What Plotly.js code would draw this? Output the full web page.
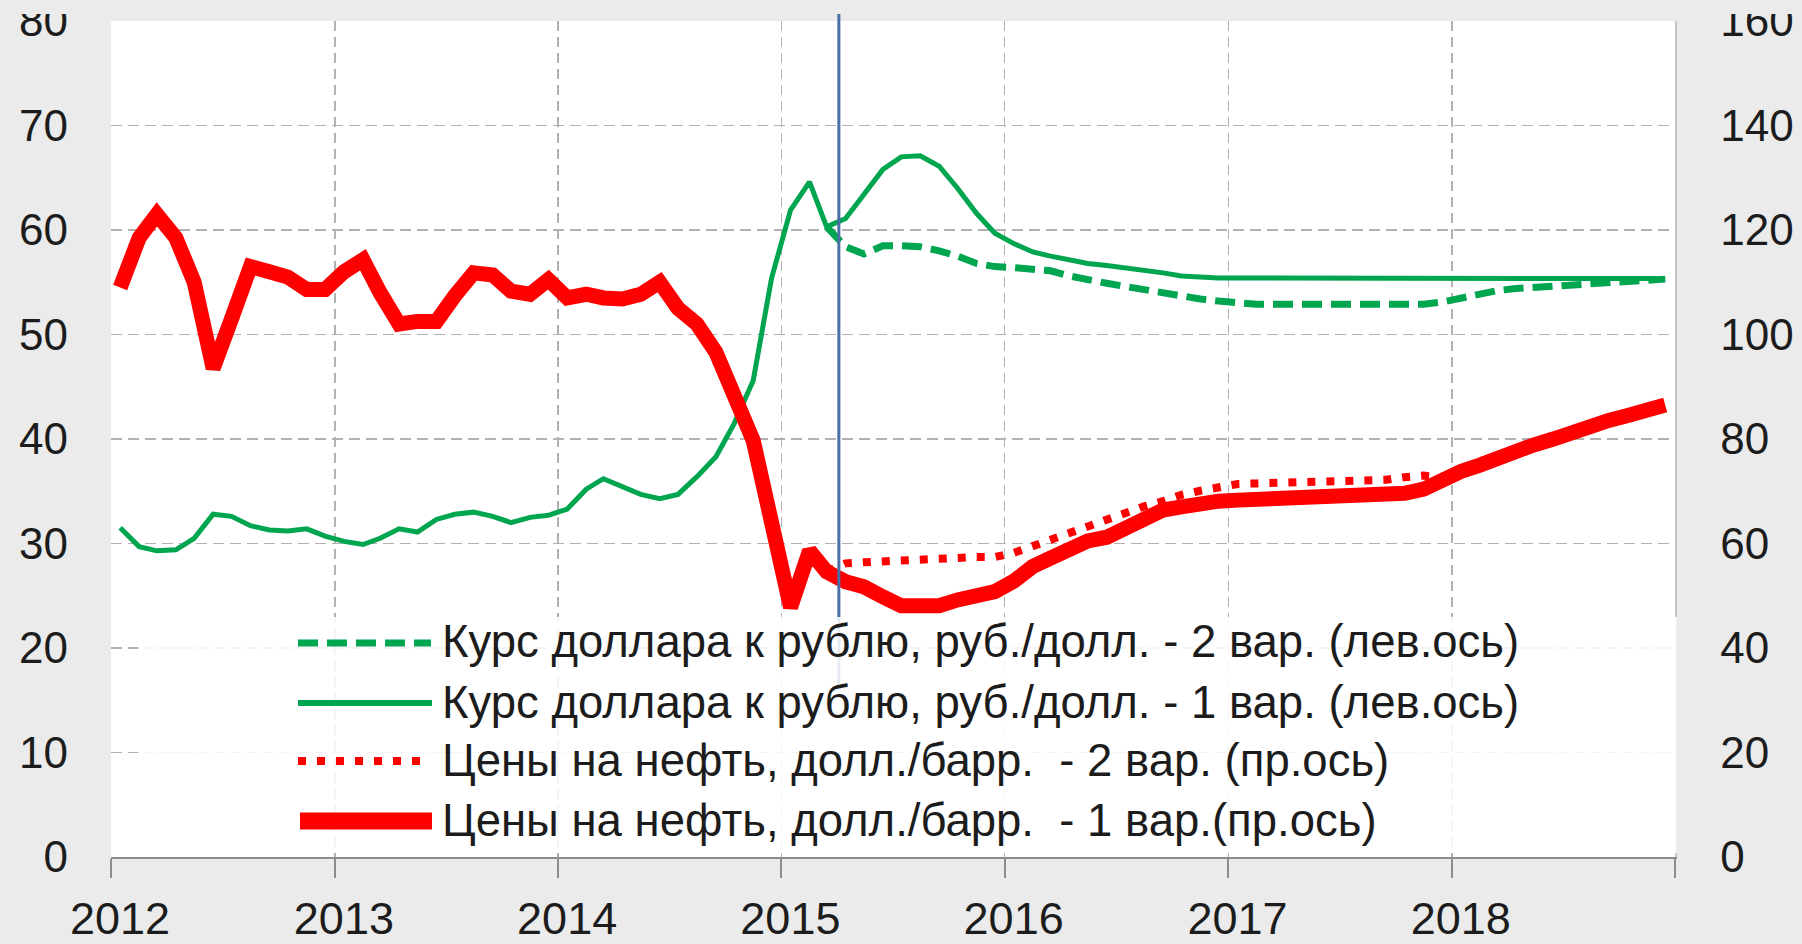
<!DOCTYPE html>
<html>
<head>
<meta charset="utf-8">
<script src="https://cdn.plot.ly/plotly-3.0.1.min.js"></script>
<style>
  html, body { margin: 0; padding: 0; background: #ebebeb; }
  #chart { width: 1802px; height: 944px; }
</style>
</head>
<body>
<div id="chart"></div>
<script>
// ---- Data (monthly, Jan 2012 - Dec 2018) ----
const startYear = 2012;
const endYear = 2018;

// Oil price, USD/bbl - variant 1 (right axis)
const oilVar1 = [
  109, 118.5, 123, 118.5, 110, 93.5, 103, 113, 112, 111, 108.6, 108.6,
  112, 114.3, 108, 102, 102.5, 102.5, 107.4, 111.8, 111.4, 108.3, 107.7, 110.5,
  107, 107.7, 107, 106.8, 107.7, 110, 105, 102, 96.6, 87.8, 79.7, 64,
  47.8, 58.6, 54.6, 52.7, 51.7, 49.8, 48.1, 48.1, 48.1, 49.2, 50.2, 50.8,
  52.8, 55.6, 57.2, 59.1, 60.5, 61.2, 62.8, 65.1, 66.4, 67.0, 67.7, 68.1,
  68.3, 68.4, 68.5, 68.6, 68.6, 68.5, 68.6, 68.8, 69.2, 69.6, 70.4, 72.2,
  73.8, 75.0, 76.4, 77.6, 78.9, 80.0, 81.3, 82.4, 83.6, 84.5, 85.5, 86.5
];
// Oil price - variant 2 (right axis), from Mar 2015
const oilVar2Start = '2015-03';
const oilVar2 = [
  54.6, 56.2, 56.4, 56.6, 56.8, 57.0, 57.2, 57.3, 57.4, 57.4,
  58.2, 59.5, 60.7, 62.2, 63.5, 64.5, 65.8, 67.1, 68.1, 69.3, 70.1, 70.8,
  71.4, 71.5, 71.6, 71.7, 71.8, 71.8, 71.8, 71.9, 72.2, 72.7, 73.0, 72.6,
  73.8
];
// USD/RUB - variant 1 (left axis)
const usdVar1 = [
  31.5, 29.7, 29.3, 29.4, 30.5, 32.8, 32.6, 31.7, 31.3, 31.2, 31.4, 30.7,
  30.2, 29.9, 30.5, 31.4, 31.1, 32.3, 32.8, 33.0, 32.6, 32.0, 32.5, 32.7,
  33.3, 35.2, 36.2, 35.5, 34.7, 34.3, 34.7, 36.4, 38.3, 41.5, 45.6, 55.4,
  61.9, 64.6, 60.3, 61.1, 63.5, 65.8, 67.0, 67.1, 66.1, 64.0, 61.6, 59.7,
  58.7, 57.9, 57.5, 57.1, 56.8, 56.6, 56.4, 56.1, 55.9, 55.6, 55.45, 55.4,
  55.4, 55.4, 55.4, 55.4, 55.4, 55.4, 55.4, 55.4, 55.4, 55.4, 55.4, 55.4,
  55.4, 55.4, 55.4, 55.4, 55.4, 55.4, 55.4, 55.4, 55.4, 55.4, 55.35, 55.35
];
// USD/RUB - variant 2 (left axis), from Mar 2015
const usdVar2Start = '2015-03';
const usdVar2 = [
  60.3, 58.4, 57.7, 58.5, 58.5, 58.4, 58.0, 57.5, 56.8, 56.5,
  56.4, 56.3, 56.1, 55.6, 55.2, 54.9, 54.6, 54.3, 53.9, 53.6, 53.4, 53.2,
  53.0, 52.9, 52.9, 52.9, 52.9, 52.9, 52.9, 52.9, 52.9, 52.9, 52.9, 53.1,
  53.5, 53.9, 54.2, 54.4, 54.5, 54.7, 54.8, 54.9, 55.0, 55.1, 55.2, 55.3
];

const yearTicks = [2012, 2013, 2014, 2015, 2016, 2017, 2018, 2019];
const yearLabels = ['2012', '2013', '2014', '2015', '2016', '2017', '2018', ''];
const forecastStart = '2015-04-05';

const names = [
  'Курс доллара к рублю, руб./долл. - 2 вар. (лев.ось)',
  'Курс доллара к рублю, руб./долл. - 1 вар. (лев.ось)',
  'Цены на нефть, долл./барр.\u00a0\u00a0- 2 вар. (пр.ось)',
  'Цены на нефть, долл./барр.\u00a0\u00a0- 1 вар.(пр.ось)'
];

// ---- Month axis (mid-month points) ----
const monthKeys = [];
const monthDates = [];
for (let y = startYear; y <= endYear; y++) {
  for (let m = 1; m <= 12; m++) {
    const mm = String(m).padStart(2, '0');
    monthKeys.push(y + '-' + mm);
    monthDates.push(y + '-' + mm + '-16');
  }
}
function datesFrom(startKey, n) {
  const i0 = monthKeys.indexOf(startKey);
  return monthDates.slice(i0, i0 + n);
}

const GREEN = '#00a550';
const RED = '#ff0000';
const GRID = '#b2b2b2';
const TXT = '#1c1c1c';
const FONT = 'Liberation Sans, Arial, sans-serif';

const traces = [
  { x: datesFrom(usdVar2Start, usdVar2.length), y: usdVar2, name: names[0], type: 'scatter', mode: 'lines',
    yaxis: 'y', line: { color: GREEN, width: 7, dash: '20px,9px' } },
  { x: monthDates, y: usdVar1, name: names[1], type: 'scatter', mode: 'lines',
    yaxis: 'y', line: { color: GREEN, width: 5 } },
  { x: datesFrom(oilVar2Start, oilVar2.length), y: oilVar2, name: names[2], type: 'scatter', mode: 'lines',
    yaxis: 'y2', line: { color: RED, width: 8, dash: '8px,11px' } },
  { x: monthDates, y: oilVar1, name: names[3], type: 'scatter', mode: 'lines',
    yaxis: 'y2', line: { color: RED, width: 15 } }
];

// ---- Plot-area geometry helpers (paper coords) ----
const L = 111, R = 127, T = 21, B = 87, W = 1802, H = 944;
const PW = W - L - R, PH = H - T - B;
const px = v => (v - L) / PW;          // figure x px -> paper
const py = v => (H - B - v) / PH;      // figure y px -> paper

const shapes = [
  // forecast start line
  { type: 'line', xref: 'x', yref: 'paper', x0: forecastStart, x1: forecastStart, y0: 0.2, y1: 1.05,
    line: { color: '#4a6ea8', width: 3 }, layer: 'above' },
  // legend box
  { type: 'rect', xref: 'paper', yref: 'paper', x0: px(138), x1: px(1677), y0: py(853), y1: py(617),
    fillcolor: 'rgba(255,255,255,0.86)', line: { width: 0 }, layer: 'above' },
  // legend samples
  { type: 'line', xref: 'paper', yref: 'paper', x0: px(298), x1: px(431), y0: py(643), y1: py(643),
    line: { color: GREEN, width: 7, dash: '20px,9px' }, layer: 'above' },
  { type: 'line', xref: 'paper', yref: 'paper', x0: px(298), x1: px(432), y0: py(703), y1: py(703),
    line: { color: GREEN, width: 6 }, layer: 'above' },
  { type: 'line', xref: 'paper', yref: 'paper', x0: px(298), x1: px(428), y0: py(761), y1: py(761),
    line: { color: RED, width: 8, dash: '8px,11px' }, layer: 'above' },
  { type: 'line', xref: 'paper', yref: 'paper', x0: px(300), x1: px(432), y0: py(821), y1: py(821),
    line: { color: RED, width: 17 }, layer: 'above' },
  // top crop band
  { type: 'rect', xref: 'paper', yref: 'paper', x0: -0.2, x1: 1.2, y0: py(14), y1: py(-20),
    fillcolor: '#ebebeb', line: { width: 0 }, layer: 'above' }
];

const legendY = [641, 702, 760, 820];
const annotations = names.map((n, i) => ({
  xref: 'paper', yref: 'paper', x: px(440), y: py(legendY[i]),
  xanchor: 'left', yanchor: 'middle', showarrow: false, text: n,
  font: { family: FONT, size: 45.5, color: TXT }
}));

const layout = {
  width: W, height: H,
  margin: { l: L, r: R, t: T, b: B, pad: 0 },
  paper_bgcolor: '#ebebeb',
  plot_bgcolor: '#ffffff',
  showlegend: false,
  xaxis: {
    type: 'date',
    range: [startYear + '-01-01', (endYear + 1) + '-01-01'],
    tickmode: 'array',
    tickvals: yearTicks.map(y => y + '-01-01'),
    ticktext: yearLabels,
    ticks: 'outside', ticklen: 19, tickwidth: 2, tickcolor: '#8c8c8c',
    showline: true, linecolor: '#8c8c8c', linewidth: 2,
    showgrid: true, gridcolor: GRID, gridwidth: 1.5, griddash: '10px,6px',
    zeroline: false,
    ticklabelshift: 9, ticklabelstandoff: 2, ticklabeloverflow: 'allow',
    tickfont: { family: FONT, size: 45, color: TXT }
  },
  yaxis: {
    range: [0, 80], dtick: 10, tick0: 0,
    ticks: '', showline: false,
    showgrid: true, gridcolor: GRID, gridwidth: 1.5, griddash: '11px,6px',
    zeroline: false,
    ticklabelstandoff: 42, ticklabeloverflow: 'allow',
    tickfont: { family: FONT, size: 44, color: TXT }
  },
  yaxis2: {
    range: [0, 160], dtick: 20, tick0: 0,
    overlaying: 'y', side: 'right', anchor: 'x',
    ticks: '', showgrid: false, zeroline: false,
    showline: true, linecolor: '#c4c4c4', linewidth: 1.5,
    ticklabelstandoff: 35, ticklabeloverflow: 'allow',
    tickfont: { family: FONT, size: 44, color: TXT }
  },
  shapes: shapes,
  annotations: annotations
};

Plotly.newPlot('chart', traces, layout, { staticPlot: true, displayModeBar: false });
</script>
</body>
</html>
